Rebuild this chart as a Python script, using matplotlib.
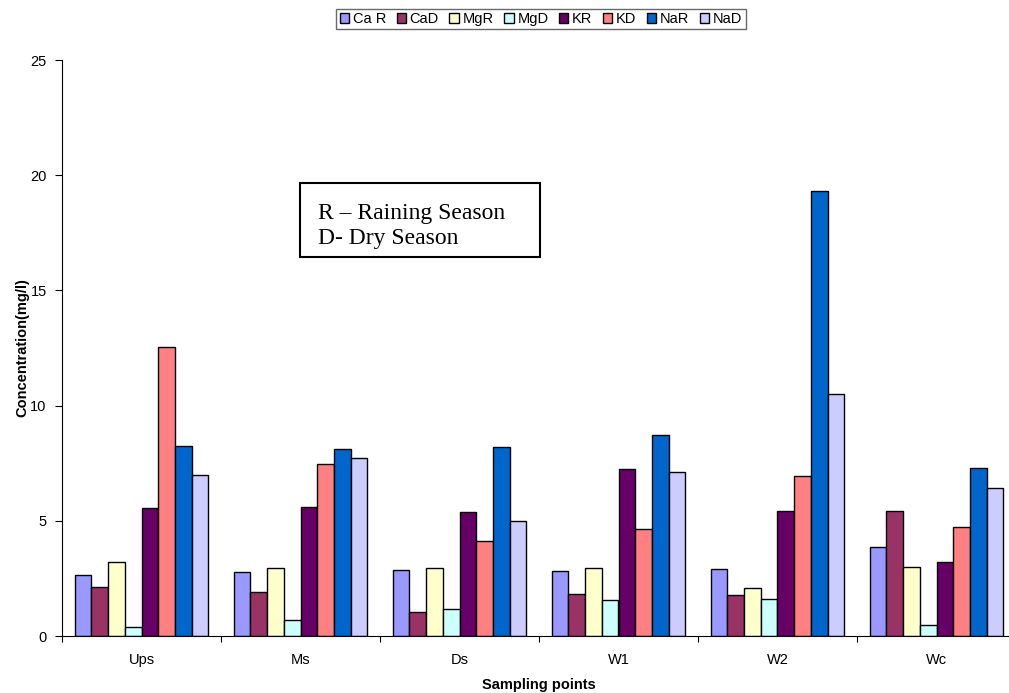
import matplotlib
matplotlib.use("Agg")
import matplotlib.pyplot as plt
import numpy as np
from matplotlib.ticker import FixedLocator, NullFormatter

categories = ["Ups", "Ms", "Ds", "W1", "W2", "Wc"]
series_names = ["Ca R", "CaD", "MgR", "MgD", "KR", "KD", "NaR", "NaD"]
ca_r = [2.65, 2.79, 2.86, 2.84, 2.92, 3.86]
ca_d = [2.14, 1.92, 1.04, 1.81, 1.78, 5.44]
mg_r = [3.23, 2.96, 2.94, 2.97, 2.10, 3.01]
mg_d = [0.40, 0.68, 1.16, 1.56, 1.62, 0.48]
k_r = [5.54, 5.61, 5.40, 7.23, 5.44, 3.20]
k_d = [12.53, 7.47, 4.11, 4.63, 6.96, 4.73]
na_r = [8.25, 8.10, 8.22, 8.72, 19.31, 7.28]
na_d = [6.99, 7.71, 5.01, 7.12, 10.50, 6.44]
series_values = [ca_r, ca_d, mg_r, mg_d, k_r, k_d, na_r, na_d]
colors = ["#9999FF", "#993366", "#FFFFCC", "#CCFFFF", "#660066", "#FF8080", "#0066CC", "#CCCCFF"]
yticks = [0, 5, 10, 15, 20, 25]

plt.rcParams['font.family'] = ['Liberation Sans', 'DejaVu Sans']

W, H = 1009, 693
fig = plt.figure(figsize=(W / 100, H / 100), dpi=100)
left, right, bottom, top = 62, 1016, 636, 60
ax = fig.add_axes([left / W, (H - bottom) / H, (right - left) / W, (bottom - top) / H])

x = np.arange(len(categories))
bw = 1 / 9.5
n = len(series_names)
handles = []
for i, (name, vals, c) in enumerate(zip(series_names, series_values, colors)):
    offs = (i - (n - 1) / 2) * bw
    b = ax.bar(x + offs, vals, width=bw, color=c, edgecolor="black", linewidth=1.0, label=name)
    handles.append(b)

ax.set_xlim(-0.5, len(categories) - 0.5)
ax.set_ylim(0, 25)
ax.set_yticks(yticks)
ax.set_xticks(x)
ax.set_xticklabels(categories)
ax.xaxis.set_minor_locator(FixedLocator(np.arange(-0.5, len(categories) + 0.5, 1)))
ax.xaxis.set_minor_formatter(NullFormatter())
ax.tick_params(axis="x", which="major", length=0, labelsize=10.5, pad=12)
ax.tick_params(axis="x", which="minor", length=4, width=0.8, direction="out")
ax.tick_params(axis="y", length=5, width=0.8, labelsize=10.5, pad=6)
ax.spines["top"].set_visible(False)
ax.spines["right"].set_visible(False)
ax.set_ylabel("Concentration(mg/l)", fontsize=10.5, fontweight="bold", labelpad=1)
ax.set_xlabel("Sampling points", fontsize=10.5, fontweight="bold", labelpad=8)

leg = fig.legend(handles=handles, labels=series_names, loc="center",
                 bbox_to_anchor=(541 / W, 1 - 19 / H), ncol=8, fontsize=10.5,
                 handlelength=0.65, handleheight=0.65, handletextpad=0.25,
                 columnspacing=0.72, borderpad=0.22, borderaxespad=0, fancybox=False, frameon=True)
leg.get_frame().set_edgecolor("#444444")
leg.get_frame().set_linewidth(1.0)

ax.text((318 - left) / (right - left), 1 - (226 - top) / (bottom - top),
        "R \u2013 Raining Season\nD- Dry Season", transform=ax.transAxes,
        fontsize=17, family=["Liberation Serif", "DejaVu Serif"], va="center", ha="left",
        linespacing=1.2)
rect = plt.Rectangle(((300 - left) / (right - left), 1 - (257 - top) / (bottom - top)),
                     (540 - 300) / (right - left), (257 - 183) / (bottom - top),
                     transform=ax.transAxes, fill=False, edgecolor="black", linewidth=1.5)
ax.add_patch(rect)

fig.savefig("out.png", dpi=100)
